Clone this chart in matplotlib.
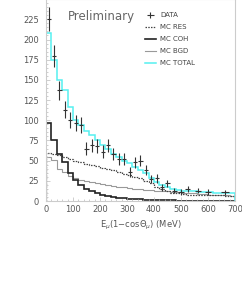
import numpy as np
import matplotlib
matplotlib.use('Agg')
import matplotlib.pyplot as plt
from matplotlib.ticker import MultipleLocator, FixedLocator

# MC histograms, 20 MeV bins from 0 to 700
edges = np.arange(0, 701, 20)
mc_total = [208, 175, 150, 138, 116, 100, 94, 87, 82, 75, 70, 64, 58, 54, 50, 47, 42, 38,
            35, 29, 24, 20, 17, 15, 14, 13, 12.5, 12, 11.5, 11, 11, 10.5, 10.5, 10, 10]
mc_res = [59, 58, 57, 55, 52, 50, 48, 46, 45, 43, 41, 40, 38, 36, 34, 32, 30, 28,
          25, 22, 18, 15, 12, 10, 9.5, 9, 8, 8, 7.5, 7.5, 7, 7, 7, 6.5, 6.5]
mc_coh = [97, 76, 58, 48, 35, 26, 20, 15, 12, 9.5, 8, 6.5, 5, 4, 3.5, 3, 2.5, 2,
          1.7, 1.4, 1.2, 1, 0.9, 0.8, 0.7, 0.6, 0.5, 0.5, 0.4, 0.4, 0.4, 0.3, 0.3, 0.3, 0.3]
mc_bgd = [55, 51, 40, 36, 31, 29, 26, 25, 24, 22, 21, 20, 19, 18, 17, 16, 15.5, 15,
          14, 13.5, 13, 12.5, 12, 11.5, 11, 10.5, 10, 9.5, 9, 8.5, 8, 7.5, 7, 7, 6.5]

# data points
data_x = [10, 30, 50, 70, 90, 110, 130, 150, 170, 190, 210, 230, 250, 270, 290, 310, 330,
          350, 370, 390, 410, 430, 450, 475, 500, 525, 562.5, 600, 662.5]
data_y = [225, 180, 137, 113, 100, 97, 94, 65, 69, 68, 61, 69, 58, 52, 52, 36, 48,
          50, 38, 27, 28, 17, 22, 13, 11.5, 14.5, 13, 11.5, 11]
data_xerr = [8]*23 + [10, 10, 10, 12, 12, 14]
data_yerr = np.sqrt(data_y)

y_ticks = [0, 25, 50, 75, 100, 125, 150, 175, 200, 225]

fig = plt.figure(figsize=(2.42, 2.91), dpi=100)
ax = fig.add_axes([0.190, 0.309, 0.781, 0.694])

ax.stairs(mc_bgd, edges, color='#999999', lw=0.8, label='MC BGD')
ax.stairs(mc_res, edges, color='#444444', lw=0.9, ls=(0, (1.2, 1.0)), label='MC RES')
ax.stairs(mc_coh, edges, color='#222222', lw=1.2, label='MC COH')
ax.stairs(mc_total, edges, color='#55f0f0', lw=1.1, label='MC TOTAL')
ax.errorbar(data_x, data_y, xerr=data_xerr, yerr=data_yerr, fmt='none',
            ecolor='#333333', elinewidth=0.8, capsize=0, label='DATA')

ax.set_xlim(0, 700)
ax.set_ylim(0, 250)
ax.xaxis.set_major_locator(MultipleLocator(100))
ax.xaxis.set_minor_locator(MultipleLocator(20))
ax.yaxis.set_major_locator(FixedLocator(y_ticks))
ax.yaxis.set_minor_locator(MultipleLocator(5))
ax.tick_params(which='both', direction='in', colors='#bbbbbb', labelcolor='#555555',
               labelsize=6, top=False, right=False)
ax.tick_params(which='major', length=3, width=0.5)
ax.tick_params(which='minor', length=1.5, width=0.5)
ax.tick_params(axis='y', pad=5)
ax.tick_params(axis='x', pad=3)
for s in ax.spines.values():
    s.set_color('#cccccc')
    s.set_linewidth(0.8)

ax.set_xlabel(r'E$_\mu$(1$-$cos$\Theta_\mu$) (MeV)', fontsize=6, color='#555555', labelpad=3)
ax.text(0.115, 0.915, 'Preliminary', transform=ax.transAxes, fontsize=8.5,
        color='#666666', va='center')

h, l = ax.get_legend_handles_labels()
order = [4, 1, 2, 0, 3]
leg = ax.legend([h[i] for i in order], [l[i] for i in order], loc='upper left',
                bbox_to_anchor=(0.49, 0.965), frameon=False, fontsize=5,
                handlelength=1.6, handletextpad=0.6, labelspacing=0.85,
                labelcolor='#444444')

fig.savefig('out.png', dpi=100)
